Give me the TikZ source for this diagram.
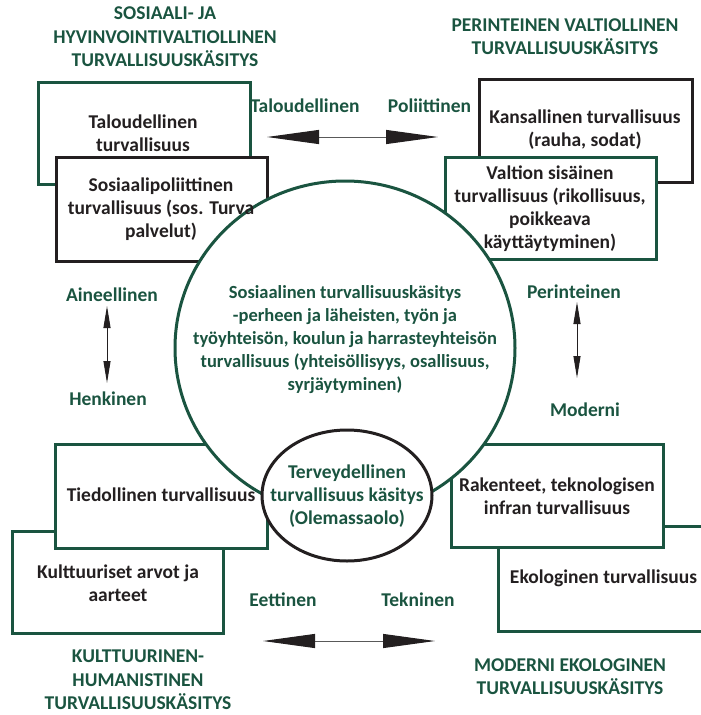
\documentclass[tikz,border=0pt]{standalone}
\usepackage{fontspec}
\setmainfont{Carlito}
\usetikzlibrary{arrows.meta,shapes.geometric}
\definecolor{dkgreen}{RGB}{26,84,64}
\definecolor{ink}{RGB}{35,31,32}

\begin{document}
\begin{tikzpicture}[x=1pt,y=-1pt,
  framebox/.style={rectangle,line width=3pt,fill=white,inner sep=0pt},
  greenbox/.style={framebox,draw=dkgreen},
  blackbox/.style={framebox,draw=ink},
  boxtext/.style={text=ink,font=\bfseries\fontsize{19.5}{23}\selectfont,align=center,inner sep=0pt},
  circtext/.style={text=dkgreen,font=\bfseries\fontsize{18.5}{23}\selectfont,align=center,inner sep=0pt},
  ovaltext/.style={text=dkgreen,font=\bfseries\fontsize{19.5}{23}\selectfont,align=center,inner sep=0pt},
  headtext/.style={text=dkgreen,font=\bfseries\fontsize{19.5}{23.5}\selectfont,align=center,inner sep=0pt},
  axistext/.style={text=dkgreen,font=\bfseries\fontsize{19.5}{23}\selectfont,inner sep=0pt},
  widearrow/.style={draw=gray!70!black,line width=1pt,
    {Triangle[length=52pt,width=14pt,color=ink]}-{Triangle[length=52pt,width=14pt,color=ink]}},
  slimarrow/.style={draw=ink,line width=1pt,
    {Triangle[length=22pt,width=7pt,color=ink]}-{Triangle[length=22pt,width=7pt,color=ink]}}
]
\useasboundingbox (0,0) rectangle (701,715);
\clip (0,0) rectangle (701,715);

% overlapping frames, back one first
\node[greenbox,minimum width=212pt,minimum height=102pt] (talbox) at (144,133) {};
\node[blackbox,minimum width=211pt,minimum height=104pt] (sosbox) at (161.5,209) {};
\node[blackbox,minimum width=213pt,minimum height=103pt] (kanbox) at (585.5,130.5) {};
\node[greenbox,minimum width=211pt,minimum height=102pt] (valbox) at (550.5,208) {};
\node[greenbox,minimum width=211pt,minimum height=102pt] (kulbox) at (117.5,582) {};
\node[greenbox,minimum width=212pt,minimum height=104pt] (tiebox) at (161,496) {};
\node[greenbox,minimum width=211pt,minimum height=105pt] (ekobox) at (603.5,578.5) {};
\node[greenbox,minimum width=212pt,minimum height=103pt] (rakbox) at (557,495.5) {};

% central circle and the small ellipse in front of it
\node[ellipse,draw=dkgreen,line width=3pt,fill=white,inner sep=0pt,
  minimum width=340pt,minimum height=334pt] (social) at (345,348) {};
\node[ellipse,draw=ink,line width=3pt,fill=white,inner sep=0pt,
  minimum width=170pt,minimum height=131pt] (health) at (347,495.5) {};

% texts inside the frames
\node[boxtext] (taltext) at (143,133.5) {Taloudellinen\\turvallisuus};
\node[boxtext] (sostext) at (161,209) {Sosiaalipoliittinen\\turvallisuus (sos. Turva\\palvelut)};
\node[boxtext] (kantext) at (585,129.5) {Kansallinen turvallisuus\\(rauha, sodat)};
\node[boxtext] (valtext) at (550,209) {Valtion sisäinen\\turvallisuus (rikollisuus,\\poikkeava\\käyttäytyminen)};
\node[boxtext] (tietext) at (161,495) {Tiedollinen turvallisuus};
\node[boxtext] (kultext) at (118,583) {Kulttuuriset arvot ja\\aarteet};
\node[boxtext] (raktext) at (557,496.5) {Rakenteet, teknologisen\\infran turvallisuus};
\node[boxtext] (ekotext) at (603.5,578) {Ekologinen turvallisuus};

\node[circtext] (socialtext) at (345,340) {Sosiaalinen turvallisuuskäsitys\\-perheen ja läheisten, työn ja\\työyhteisön, koulun ja harrasteyhteisön\\turvallisuus (yhteisöllisyys, osallisuus,\\syrjäytyminen)};
\node[ovaltext] (healthtext) at (347,496.5) {Terveydellinen\\turvallisuus käsitys\\(Olemassaolo)};

% corner headings
\node[headtext] (headsw) at (165,37) {SOSIAALI- JA\\HYVINVOINTIVALTIOLLINEN\\TURVALLISUUSKÄSITYS};
\node[headtext] (headne) at (565,36.5) {PERINTEINEN VALTIOLLINEN\\TURVALLISUUSKÄSITYS};
\node[headtext] (headsl) at (138,680) {KULTTUURINEN-\\HUMANISTINEN\\TURVALLISUUSKÄSITYS};
\node[headtext] (headse) at (570,676.5) {MODERNI EKOLOGINEN\\TURVALLISUUSKÄSITYS};

% axis labels
\node[axistext] (lecon) at (305,106) {Taloudellinen};
\node[axistext] (lpol) at (429.5,106) {Poliittinen};
\node[axistext] (lmat) at (112,295) {Aineellinen};
\node[axistext] (lspi) at (108,399) {Henkinen};
\node[axistext] (ltrad) at (574,292) {Perinteinen};
\node[axistext] (lmod) at (585,410) {Moderni};
\node[axistext] (leth) at (283,600) {Eettinen};
\node[axistext] (ltech) at (418,600) {Tekninen};

% double-headed arrows between the labels
\coordinate (topL) at (267,137);
\coordinate (topR) at (438,137);
\coordinate (botL) at (263,641);
\coordinate (botR) at (435,641);
\coordinate (leftT) at (107,306);
\coordinate (leftB) at (107,383);
\coordinate (rightT) at (577,302);
\coordinate (rightB) at (577,378);
\draw[widearrow] (topL) -- (topR);
\draw[widearrow] (botL) -- (botR);
\draw[slimarrow] (leftT) -- (leftB);
\draw[slimarrow] (rightT) -- (rightB);
\end{tikzpicture}
\end{document}
